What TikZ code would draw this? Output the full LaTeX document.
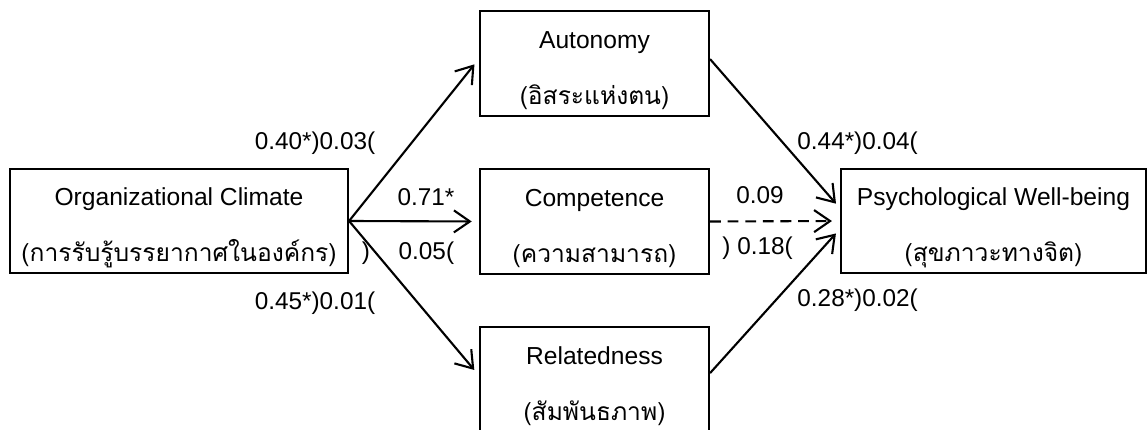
\documentclass[tikz,border=0pt]{standalone}
\usepackage{fontspec}
\setmainfont{Liberation Sans}
\newfontfamily\thaifont[Script=Thai]{Loma}
\usetikzlibrary{arrows.meta, positioning}
\newcommand{\topgap}{\rule{0pt}{22pt}}

\begin{document}
\begin{tikzpicture}[
    construct/.style={rectangle, draw, line width=1.5pt, minimum width=5.725cm, minimum height=2.625cm, align=center, inner sep=0pt, font=\fontsize{17.5}{39.8}\selectfont},
    coef/.style={font=\fontsize{17.3}{20}\selectfont, inner sep=0pt},
    line/.style={line width=1.5pt, -{Straight Barb[length=4mm, width=5.5mm, line width=1.5pt]}},
  ]
    \useasboundingbox (0, 0) rectangle (28.675, -10.75);

    % Constructs
    \node[construct, minimum width=8.45cm, minimum height=2.6cm] (climate) at (4.475, -5.525) {\topgap Organizational Climate\\{\thaifont (การรับรู้บรรยากาศในองค์กร)}};
    \node[construct] (autonomy) at (14.8625, -1.5875) {\topgap Autonomy\\{\thaifont (อิสระแห่งตน)}};
    \node[construct] (competence) at (14.8625, -5.5375) {\topgap Competence\\{\thaifont (ความสามารถ)}};
    \node[construct] (related) at (14.8625, -9.4875) {\topgap Relatedness\\{\thaifont (สัมพันธภาพ)}};
    \node[construct, minimum width=7.625cm, minimum height=2.6cm] (wellbeing) at (24.8375, -5.525) {\topgap Psychological Well-being\\{\thaifont (สุขภาวะทางจิต)}};

    % Paths from climate
    \draw[line, shorten >=0.18cm] (climate.east) -- ([yshift=0.12cm]autonomy.west);
    \draw[line, shorten >=0.18cm] (climate.east) -- (competence.west);
    \draw[line, shorten >=0.18cm] (climate.east) -- ([yshift=0.1cm]related.west);

    % Paths to well-being
    \draw[line, shorten >=0.15cm] ([yshift=0.11cm]autonomy.east) -- ([yshift=0.32cm]wellbeing.west);
    \draw[line, dash pattern=on 0.27cm off 0.17cm, shorten >=0.2cm] (competence.east) -- (wellbeing.west);
    \draw[line, shorten >=0.15cm] ([yshift=0.16cm]related.east) -- ([yshift=-0.2cm]wellbeing.west);

    % Coefficients
    \node[coef] (c1) at (7.875, -3.575) {0.40*)0.03(};
    \node[coef] (c2) at (10.65, -4.925) {0.71*};
    \node[coef] (c2a) at (9.15, -6.325) {)};
    \node[coef] (c2b) at (10.66, -6.325) {0.05(};
    \node[coef] (c3) at (7.875, -7.575) {0.45*)0.01(};
    \node[coef] (c4) at (21.44, -3.575) {0.44*)0.04(};
    \node[coef] (c5) at (19.0, -4.875) {0.09};
    \node[coef] (c5a) at (18.94, -6.2) {) 0.18(};
    \node[coef] (c6) at (21.44, -7.5) {0.28*)0.02(};

  \end{tikzpicture}
\end{document}
